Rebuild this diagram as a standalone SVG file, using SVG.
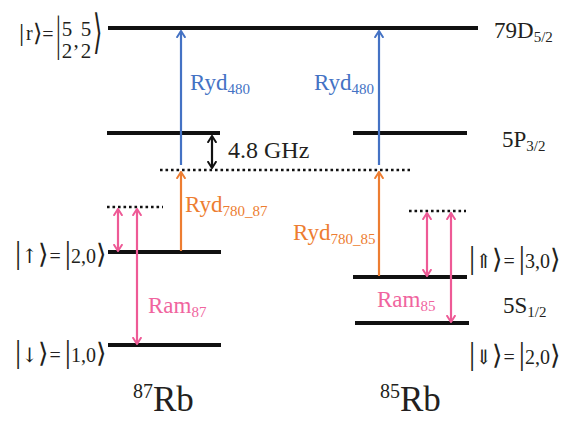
<svg xmlns="http://www.w3.org/2000/svg" width="580" height="426" viewBox="0 0 580 426" font-family="'Liberation Serif', 'Times New Roman', 'DejaVu Serif', serif">
<style>
  text { font-family: 'Liberation Serif', 'Times New Roman', Times, 'DejaVu Serif', serif; fill: #231f20; }
  .lv { stroke: #111; stroke-width: 4; fill: none; }
  .dot { stroke: #111; stroke-width: 2.5; stroke-dasharray: 2.6 2.9; fill: none; }
  .lab { font-size: 20px; }
  .d { font-family: 'Liberation Serif', 'DejaVu Serif', serif; }
  .a { font-family: 'DejaVu Serif', 'DejaVu Sans', serif; }
  .st { font-size: 23px; }
  .sub { font-size: 15px; }
  .blue { stroke: #4472c4; stroke-width: 2.2; fill: none; }
  .orange { stroke: #ed7d31; stroke-width: 2.2; fill: none; }
  .pink { stroke: #ee5a96; stroke-width: 2.2; fill: none; }
  .blk { stroke: #111; stroke-width: 2.2; fill: none; }
  .tb { fill: #4472c4; }
  .to { fill: #ed7d31; }
  .tp { fill: #f0649e; }
</style>
<defs>
  <marker id="hb" viewBox="0 0 8 10" refX="7.4" refY="5" markerWidth="8" markerHeight="10" markerUnits="userSpaceOnUse" orient="auto-start-reverse">
    <path d="M0.6,0.6 L7.4,5 L0.6,9.4" fill="none" stroke="#4472c4" stroke-width="2"/>
  </marker>
  <marker id="ho" viewBox="0 0 8 10" refX="7.4" refY="5" markerWidth="8" markerHeight="10" markerUnits="userSpaceOnUse" orient="auto-start-reverse">
    <path d="M0.6,0.6 L7.4,5 L0.6,9.4" fill="none" stroke="#ed7d31" stroke-width="2"/>
  </marker>
  <marker id="hp" viewBox="0 0 8 10" refX="7.4" refY="5" markerWidth="8" markerHeight="10" markerUnits="userSpaceOnUse" orient="auto-start-reverse">
    <path d="M0.6,0.6 L7.4,5 L0.6,9.4" fill="none" stroke="#ee5a96" stroke-width="2"/>
  </marker>
  <marker id="hk" viewBox="0 0 8 10" refX="7.4" refY="5" markerWidth="8" markerHeight="10" markerUnits="userSpaceOnUse" orient="auto-start-reverse">
    <path d="M0.6,0.6 L7.4,5 L0.6,9.4" fill="none" stroke="#111" stroke-width="2"/>
  </marker>
</defs>

<!-- Rydberg level 79D5/2 -->
<g id="level-79D">
  <line class="lv" x1="108" y1="28" x2="478" y2="28"/>
  <text class="st" x="494" y="38">79D<tspan class="sub" dy="4">5/2</tspan></text>
  <g id="ket-r">
    <text x="19" y="41" font-size="26" class="d">|</text>
    <text x="26" y="40" font-size="20">r</text>
    <text x="33" y="41" font-size="24" class="a">⟩</text>
    <text x="48" y="41" font-size="20" text-anchor="middle">=</text>
    <text class="d" font-size="24" transform="translate(56,50) scale(1,2.05)">|</text>
    <text x="67" y="36" font-size="21" text-anchor="middle">5</text>
    <text x="67" y="58" font-size="21" text-anchor="middle">2</text>
    <text x="76" y="47" font-size="21" text-anchor="middle">,</text>
    <text x="86" y="36" font-size="21" text-anchor="middle">5</text>
    <text x="86" y="58" font-size="21" text-anchor="middle">2</text>
    <text class="a" font-size="24" transform="translate(93,48) scale(1,1.95)">⟩</text>
  </g>
</g>

<!-- 5P3/2 levels -->
<g id="level-5P-87">
  <line class="lv" x1="107" y1="133" x2="220" y2="133"/>
</g>
<g id="level-5P-85">
  <line class="lv" x1="353" y1="133" x2="467" y2="133"/>
  <text class="st" x="502" y="147">5P<tspan class="sub" dy="4">3/2</tspan></text>
</g>

<!-- intermediate virtual level -->
<g id="virtual-level">
  <line class="dot" x1="160" y1="170" x2="410" y2="170"/>
</g>

<!-- 87Rb ground levels -->
<g id="level-up-87">
  <line class="lv" x1="108" y1="252" x2="221" y2="252"/>
  <text class="lab" x="15" y="263"><tspan class="d" font-size="31">|</tspan><tspan class="a">↑</tspan><tspan class="a" font-size="27">⟩</tspan><tspan dx="1">=</tspan><tspan class="d" font-size="31" dx="4">|</tspan>2,0<tspan class="a" font-size="27">⟩</tspan></text>
</g>
<g id="level-down-87">
  <line class="lv" x1="108" y1="345" x2="221" y2="345"/>
  <text class="lab" x="15" y="362"><tspan class="d" font-size="31">|</tspan><tspan class="a">↓</tspan><tspan class="a" font-size="27">⟩</tspan><tspan dx="1">=</tspan><tspan class="d" font-size="31" dx="4">|</tspan>1,0<tspan class="a" font-size="27">⟩</tspan></text>
</g>
<g id="raman-virtual-87">
  <line class="dot" x1="107" y1="207" x2="163" y2="207"/>
</g>

<!-- 85Rb ground levels -->
<g id="level-up-85">
  <line class="lv" x1="353" y1="277" x2="467" y2="277"/>
  <text class="lab" x="469" y="268"><tspan class="d" font-size="31">|</tspan><tspan class="a">⇑</tspan><tspan class="a" font-size="27">⟩</tspan><tspan dx="1">=</tspan><tspan class="d" font-size="31" dx="4">|</tspan>3,0<tspan class="a" font-size="27">⟩</tspan></text>
</g>
<g id="level-5S">
  <text class="st" x="503" y="313">5S<tspan class="sub" dy="4">1/2</tspan></text>
</g>
<g id="level-down-85">
  <line class="lv" x1="355" y1="323" x2="469" y2="323"/>
  <text class="lab" x="469" y="364"><tspan class="d" font-size="31">|</tspan><tspan class="a">⇓</tspan><tspan class="a" font-size="27">⟩</tspan><tspan dx="1">=</tspan><tspan class="d" font-size="31" dx="4">|</tspan>2,0<tspan class="a" font-size="27">⟩</tspan></text>
</g>
<g id="raman-virtual-85">
  <line class="dot" x1="409" y1="211" x2="466" y2="211"/>
</g>

<!-- connectors -->
<g id="connectors">
  <line class="blue" x1="181" y1="165" x2="181" y2="31" marker-end="url(#hb)"/>
  <line class="blue" x1="379" y1="165" x2="379" y2="31" marker-end="url(#hb)"/>
  <line class="orange" x1="181" y1="251" x2="181" y2="172" marker-end="url(#ho)"/>
  <line class="orange" x1="379" y1="276" x2="379" y2="172" marker-end="url(#ho)"/>
  <line class="blk" x1="212" y1="136" x2="212" y2="168" marker-start="url(#hk)" marker-end="url(#hk)"/>
  <line class="pink" x1="118" y1="209" x2="118" y2="251" marker-start="url(#hp)" marker-end="url(#hp)"/>
  <line class="pink" x1="137" y1="209" x2="137" y2="344" marker-start="url(#hp)" marker-end="url(#hp)"/>
  <line class="pink" x1="427" y1="213" x2="427" y2="276" marker-start="url(#hp)" marker-end="url(#hp)"/>
  <line class="pink" x1="451" y1="213" x2="451" y2="322" marker-start="url(#hp)" marker-end="url(#hp)"/>
</g>

<!-- labels -->
<g id="labels">
  <text class="st tb" x="190" y="90">Ryd<tspan class="sub" dy="4">480</tspan></text>
  <text class="st tb" x="314" y="90">Ryd<tspan class="sub" dy="4">480</tspan></text>
  <text x="228" y="158" font-size="24">4.8 GHz</text>
  <text class="st to" x="185" y="212">Ryd<tspan class="sub" dy="4">780_87</tspan></text>
  <text class="st to" x="293" y="240">Ryd<tspan class="sub" dy="4">780_85</tspan></text>
  <text class="st tp" x="148" y="313">Ram<tspan class="sub" dy="4">87</tspan></text>
  <text class="st tp" x="377" y="307">Ram<tspan class="sub" dy="4">85</tspan></text>
  <text x="133" y="411" font-size="35"><tspan font-size="20" dy="-13">87</tspan><tspan dy="13">Rb</tspan></text>
  <text x="380" y="411" font-size="35"><tspan font-size="20" dy="-13">85</tspan><tspan dy="13">Rb</tspan></text>
</g>
</svg>
